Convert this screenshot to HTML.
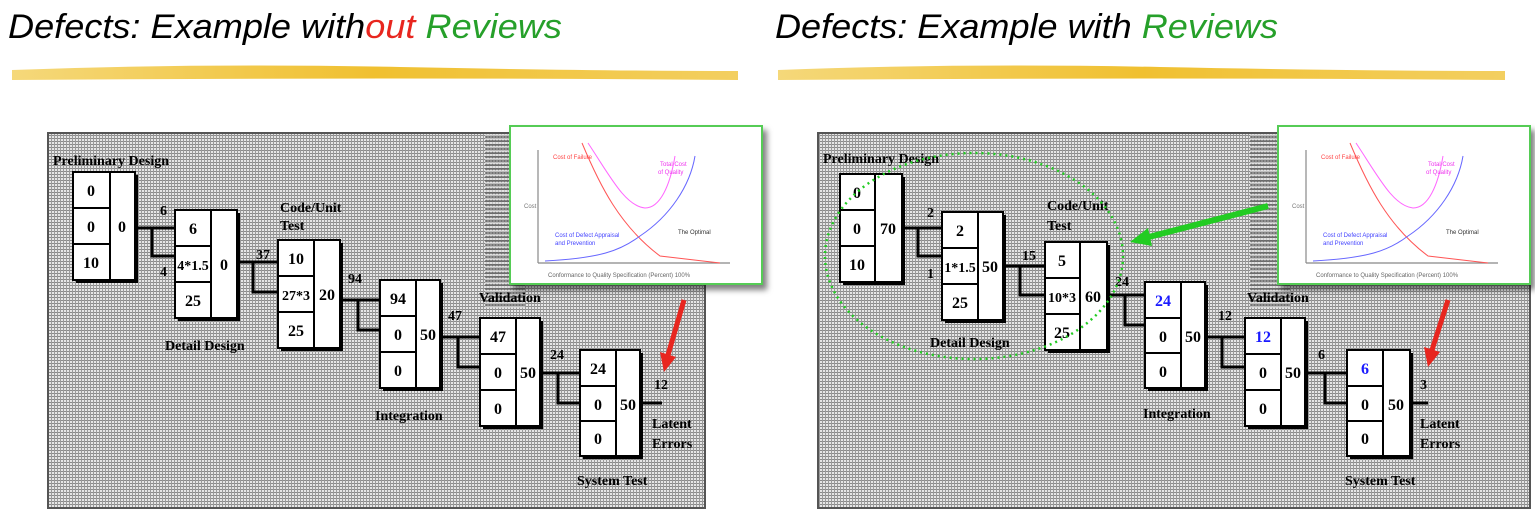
<!DOCTYPE html>
<html><head><meta charset="utf-8"><style>
html,body{margin:0;padding:0;background:#fff;width:1535px;height:515px;overflow:hidden}
svg{display:block}
.t{font-family:"Liberation Sans",sans-serif;font-style:italic;font-size:34px;fill:#000}
.b{font-family:"Liberation Serif",serif;font-weight:bold;font-size:16px;fill:#000;text-anchor:middle}
.n{font-size:14px}
.l{font-family:"Liberation Serif",serif;font-weight:bold;font-size:14px;fill:#000}
.s{font-family:"Liberation Sans",sans-serif;font-size:6px}
</style></head><body>
<svg width="1535" height="515" xmlns="http://www.w3.org/2000/svg">
<defs>
<pattern id="p" width="3" height="3" patternUnits="userSpaceOnUse">
<rect width="3" height="3" fill="#e6e6e6"/><rect width="3" height="1" fill="#8a8a8a"/><rect width="1" height="3" fill="#9a9a9a"/>
</pattern>
<pattern id="p2" width="4" height="4" patternUnits="userSpaceOnUse">
<rect width="4" height="4" fill="#ddd"/><rect width="4" height="2" fill="#555"/>
</pattern>
<linearGradient id="y" x1="0" x2="1"><stop offset="0" stop-color="#f5d87a"/><stop offset=".5" stop-color="#f0c030"/><stop offset="1" stop-color="#f3cf60"/></linearGradient>
<filter id="sh"><feDropShadow dx="4" dy="5" stdDeviation="3" flood-color="#000" flood-opacity=".5"/></filter>
<g id="inset">
<rect x="0" y="0" width="252" height="158" fill="#fff" stroke="#5c5" stroke-width="2" filter="url(#sh)"/>
<path d="M28 137 V24 M28 137 H220" stroke="#888" stroke-width="1.2" fill="none"/>
<path d="M72 17 C90 60 110 100 150 130 L210 137" stroke="#f55" fill="none"/>
<path d="M78 17 C100 50 115 80 135 82 C150 82 160 60 165 30" stroke="#f6f" fill="none"/>
<path d="M35 135 C90 132 110 125 130 110 C160 90 180 60 185 30" stroke="#66f" fill="none"/>
<text class="s" x="43" y="33" fill="#f44">Cost of Failure</text>
<text class="s" x="150" y="40" fill="#e3e">Total Cost</text>
<text class="s" x="148" y="48" fill="#e3e">of Quality</text>
<text class="s" x="14" y="82" fill="#777">Cost</text>
<text class="s" x="168" y="108" fill="#333">The Optimal</text>
<text class="s" x="45" y="111" fill="#44f">Cost of Defect Appraisal</text>
<text class="s" x="45" y="119" fill="#44f">and Prevention</text>
<text class="s" x="38" y="151" fill="#666">Conformance to Quality Specification (Percent) 100%</text>
</g>
</defs>

<text class="t" x="8" y="38" textLength="554" lengthAdjust="spacingAndGlyphs">Defects: Example with<tspan fill="#e8261f">out</tspan> <tspan fill="#26a02a">Reviews</tspan></text>
<text class="t" x="775" y="38" textLength="503" lengthAdjust="spacingAndGlyphs">Defects: Example with <tspan fill="#26a02a">Reviews</tspan></text>
<path d="M12 70 Q200 63 400 67 T738 71 L738 80 Q400 77 12 80Z" fill="url(#y)"/>
<path d="M778 70 Q960 63 1160 67 T1505 71 L1505 80 Q1160 77 778 80Z" fill="url(#y)"/>

<!-- LEFT -->
<rect x="48" y="133" width="657" height="375" fill="url(#p)" stroke="#555" stroke-width="2"/>
<rect x="485" y="133" width="40" height="175" fill="url(#p2)" opacity=".6"/>
<g stroke="#000" stroke-width="3" fill="none">
<path d="M135 228 H176 M152 228 V256 H176"/>
<path d="M237 262 H278 M253 262 V292 H278"/>
<path d="M340 300 H380 M358 300 V330 H380"/>
<path d="M440 337 H480 M458 337 V367 H480"/>
<path d="M540 373 H580 M558 373 V403 H580"/>
<path d="M640 403 H662"/>
</g>
<g fill="#000">
<rect x="76" y="175" width="62" height="108"/><rect x="178" y="213" width="62" height="108"/><rect x="281" y="243" width="62" height="108"/>
<rect x="383" y="283" width="60" height="108"/><rect x="483" y="321" width="60" height="108"/><rect x="583" y="353" width="60" height="106"/>
</g>
<g fill="#fff" stroke="#000" stroke-width="2">
<rect x="73" y="172" width="62" height="108"/><path d="M110 172V280M73 208H110M73 244H110"/>
<rect x="175" y="210" width="62" height="108"/><path d="M211 210V318M175 246H211M175 282H211"/>
<rect x="278" y="240" width="62" height="108"/><path d="M314 240V348M278 276H314M278 312H314"/>
<rect x="380" y="280" width="60" height="108"/><path d="M416 280V388M380 316H416M380 352H416"/>
<rect x="480" y="318" width="60" height="108"/><path d="M516 318V426M480 354H516M480 390H516"/>
<rect x="580" y="350" width="60" height="106"/><path d="M616 350V456M580 386H616M580 421H616"/>
</g>
<g class="b">
<text x="91" y="196">0</text><text x="91" y="232">0</text><text x="91" y="268">10</text><text x="122" y="232">0</text>
<text x="193" y="234">6</text><text x="193" y="270" class="n">4*1.5</text><text x="193" y="306">25</text><text x="224" y="270">0</text>
<text x="296" y="264">10</text><text x="296" y="300" class="n">27*3</text><text x="296" y="336">25</text><text x="327" y="300">20</text>
<text x="398" y="304">94</text><text x="398" y="340">0</text><text x="398" y="376">0</text><text x="428" y="340">50</text>
<text x="498" y="342">47</text><text x="498" y="378">0</text><text x="498" y="414">0</text><text x="528" y="378">50</text>
<text x="598" y="374">24</text><text x="598" y="410">0</text><text x="598" y="444">0</text><text x="628" y="410">50</text>
</g>
<g class="l">
<text x="53" y="165">Preliminary Design</text>
<text x="160" y="215">6</text><text x="160" y="276">4</text>
<text x="165" y="350">Detail Design</text>
<text x="280" y="212">Code/Unit</text><text x="280" y="230">Test</text>
<text x="256" y="259">37</text><text x="348" y="283">94</text>
<text x="375" y="420">Integration</text>
<text x="448" y="320">47</text><text x="479" y="302">Validation</text>
<text x="550" y="359">24</text>
<text x="654" y="389">12</text><text x="652" y="428">Latent</text><text x="652" y="448">Errors</text>
<text x="577" y="485">System Test</text>
</g>
<use href="#inset" x="510" y="126"/>
<path d="M684 300 L668 355" stroke="#e8261f" stroke-width="5"/><path d="M660 352 L664 372 L676 357Z" fill="#e8261f"/>

<!-- RIGHT -->
<rect x="818" y="133" width="712" height="375" fill="url(#p)" stroke="#555" stroke-width="2"/>
<rect x="1250" y="133" width="40" height="175" fill="url(#p2)" opacity=".6"/>
<g stroke="#000" stroke-width="3" fill="none">
<path d="M901 228 H942 M918 228 V256 H942"/>
<path d="M1003 266 H1045 M1020 266 V295 H1045"/>
<path d="M1107 295 H1145 M1125 295 V325 H1145"/>
<path d="M1205 337 H1245 M1222 337 V367 H1245"/>
<path d="M1305 373 H1347 M1325 373 V403 H1347"/>
<path d="M1410 403 H1428"/>
</g>
<g fill="#000">
<rect x="843" y="177" width="62" height="108"/><rect x="945" y="215" width="61" height="108"/><rect x="1048" y="245" width="62" height="108"/>
<rect x="1148" y="285" width="60" height="106"/><rect x="1248" y="321" width="60" height="108"/><rect x="1350" y="353" width="63" height="106"/>
</g>
<g fill="#fff" stroke="#000" stroke-width="2">
<rect x="840" y="174" width="62" height="108"/><path d="M875 174V282M840 210H875M840 246H875"/>
<rect x="942" y="212" width="61" height="108"/><path d="M978 212V320M942 248H978M942 284H978"/>
<rect x="1045" y="242" width="62" height="108"/><path d="M1080 242V350M1045 278H1080M1045 314H1080"/>
<rect x="1145" y="282" width="60" height="106"/><path d="M1181 282V388M1145 318H1181M1145 353H1181"/>
<rect x="1245" y="318" width="60" height="108"/><path d="M1281 318V426M1245 354H1281M1245 390H1281"/>
<rect x="1347" y="350" width="63" height="106"/><path d="M1383 350V456M1347 386H1383M1347 421H1383"/>
</g>
<g class="b">
<text x="857" y="198">0</text><text x="857" y="234">0</text><text x="857" y="270">10</text><text x="888" y="234">70</text>
<text x="960" y="236">2</text><text x="960" y="272" class="n">1*1.5</text><text x="960" y="308">25</text><text x="990" y="272">50</text>
<text x="1062" y="266">5</text><text x="1062" y="302" class="n">10*3</text><text x="1062" y="338">25</text><text x="1093" y="302">60</text>
<text x="1163" y="306" fill="#1a1aff">24</text><text x="1163" y="342">0</text><text x="1163" y="377">0</text><text x="1193" y="342">50</text>
<text x="1263" y="342" fill="#1a1aff">12</text><text x="1263" y="378">0</text><text x="1263" y="414">0</text><text x="1293" y="378">50</text>
<text x="1365" y="374" fill="#1a1aff">6</text><text x="1365" y="410">0</text><text x="1365" y="444">0</text><text x="1396" y="410">50</text>
</g>
<g class="l">
<text x="823" y="163">Preliminary Design</text>
<text x="927" y="217">2</text><text x="927" y="278">1</text>
<text x="930" y="347">Detail Design</text>
<text x="1047" y="210">Code/Unit</text><text x="1047" y="230">Test</text>
<text x="1022" y="260">15</text><text x="1115" y="286">24</text>
<text x="1143" y="418">Integration</text>
<text x="1218" y="320">12</text><text x="1247" y="302">Validation</text>
<text x="1318" y="359">6</text>
<text x="1420" y="389">3</text><text x="1420" y="428">Latent</text><text x="1420" y="448">Errors</text>
<text x="1345" y="485">System Test</text>
</g>
<ellipse cx="974" cy="256" rx="149" ry="103" fill="none" stroke="#2c2" stroke-width="2.5" stroke-dasharray="2 4"/>
<use href="#inset" x="1278" y="126"/>
<path d="M1268 206 L1145 238" stroke="#2c2" stroke-width="6"/><path d="M1130 242 L1148 228 L1152 246Z" fill="#2c2"/>
<path d="M1448 300 L1432 350" stroke="#e8261f" stroke-width="5"/><path d="M1424 347 L1428 367 L1440 352Z" fill="#e8261f"/>
</svg>
</body></html>
